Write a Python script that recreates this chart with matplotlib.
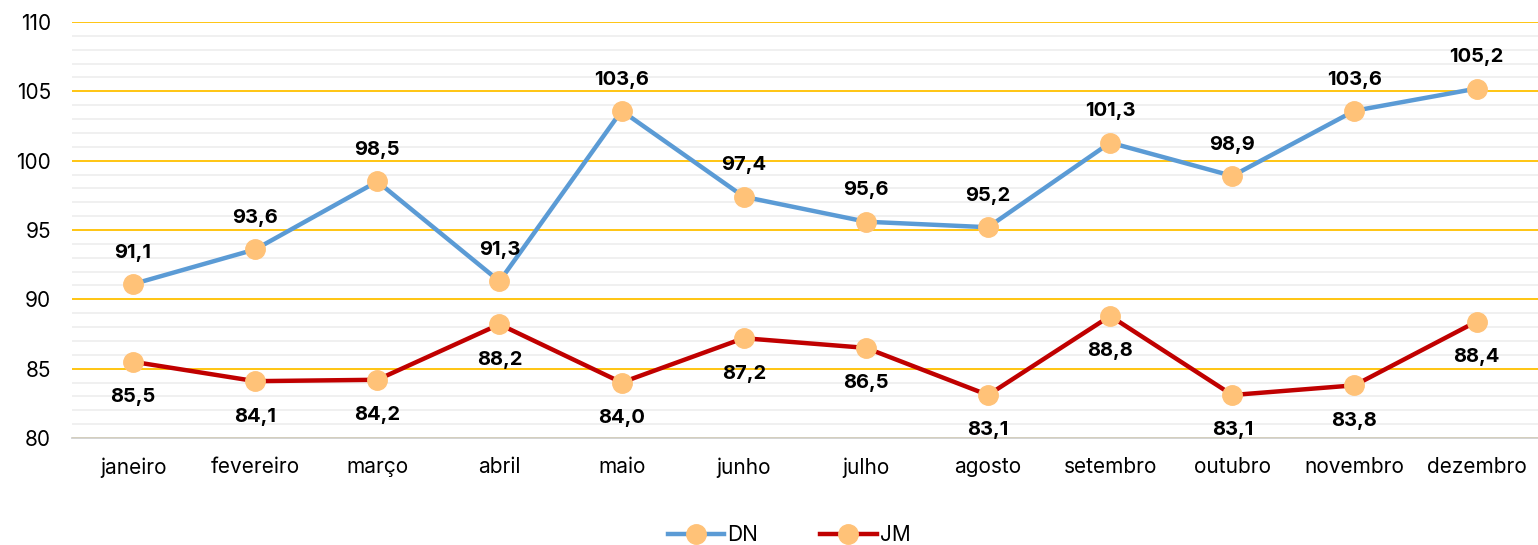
import matplotlib.pyplot as plt
from matplotlib.ticker import MultipleLocator

# data
meses = ['janeiro', 'fevereiro', 'março', 'abril', 'maio', 'junho',
         'julho', 'agosto', 'setembro', 'outubro', 'novembro', 'dezembro']
dn = [91.1, 93.6, 98.5, 91.3, 103.6, 97.4, 95.6, 95.2, 101.3, 98.9, 103.6, 105.2]
jm = [85.5, 84.1, 84.2, 88.2, 84.0, 87.2, 86.5, 83.1, 88.8, 83.1, 83.8, 88.4]

plt.rcParams['font.family'] = ['Inter', 'DejaVu Sans']

fig = plt.figure(figsize=(15.38, 5.45), dpi=100)
ax = fig.add_axes([0.0468, 0.1963, 0.953, 0.7633])

x = list(range(len(meses)))
mk = dict(marker='o', markersize=14, markerfacecolor='#FFC278',
          markeredgecolor='#FFC278', linewidth=3.2, zorder=3)
ax.plot(x, dn, color='#5B9BD5', label='DN', **mk)
ax.plot(x, jm, color='#C00000', label='JM', **mk)

for i in x:
    ax.annotate(f'{dn[i]:.1f}'.replace('.', ','), (i, dn[i]), xytext=(0, 22.5),
                textcoords='offset points', ha='center', va='center',
                fontsize=14.5, fontweight='bold')
    ax.annotate(f'{jm[i]:.1f}'.replace('.', ','), (i, jm[i]), xytext=(0, -25.5),
                textcoords='offset points', ha='center', va='center',
                fontsize=14.5, fontweight='bold')

ax.set_xlim(-0.5, 11.5)
ax.set_ylim(80, 110)
ax.set_xticks(x)
ax.set_xticklabels(meses)
ax.yaxis.set_major_locator(MultipleLocator(5))
ax.yaxis.set_minor_locator(MultipleLocator(1))
ax.grid(axis='y', which='minor', color='#EDEDED', linewidth=1.2)
ax.grid(axis='y', which='major', color='#FFC000', linewidth=1.3)
ax.set_axisbelow(True)
ax.tick_params(axis='both', which='both', length=0, labelsize=15)
ax.tick_params(axis='x', pad=14)
ax.tick_params(axis='y', pad=15)
for s in ['top', 'right', 'left']:
    ax.spines[s].set_visible(False)
ax.spines['bottom'].set_color('#D0D0D0')
ax.spines['bottom'].set_linewidth(1.3)
ax.spines['bottom'].set_zorder(2)

ax.legend(loc='center', bbox_to_anchor=(0.513, 0.018),
          bbox_transform=fig.transFigure, ncol=2, frameon=False, fontsize=15,
          handlelength=2.7, columnspacing=3, handletextpad=0.15,
          borderaxespad=0, borderpad=0)

fig.savefig('out.png', dpi=100)
